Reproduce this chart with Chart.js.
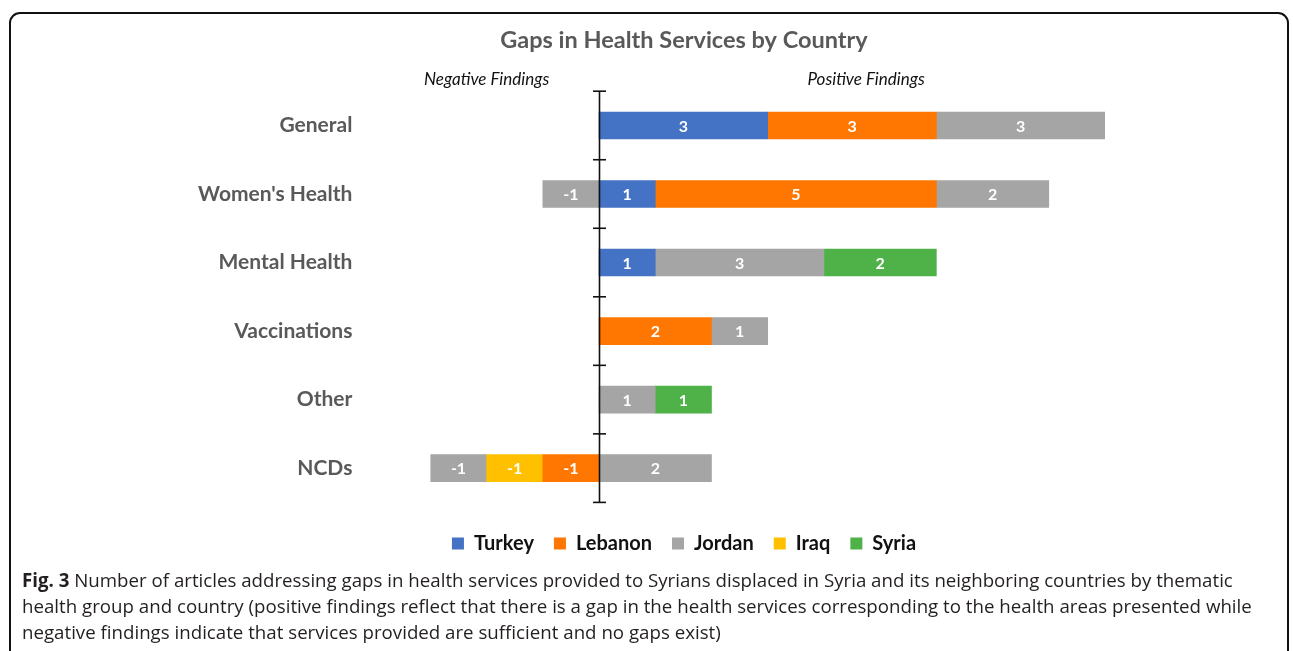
<!DOCTYPE html>
<html>
<head>
<meta charset="utf-8">
<script src="https://cdn.jsdelivr.net/npm/chart.js@4/dist/chart.umd.min.js"></script>
<style>
  html,body{margin:0;padding:0;background:#fff;width:1293px;height:651px;overflow:hidden;}
  #frame{position:absolute;left:9px;top:12px;width:1280px;height:700px;border:2px solid #111;border-radius:11px;box-sizing:border-box;}
  #wrap{position:absolute;left:0;top:0;width:1293px;height:593px;}
  #caption{position:absolute;left:22px;top:567px;font-family:"Open Sans",sans-serif;font-size:18.7px;line-height:26px;color:#231f20;white-space:nowrap;}
  #caption b{font-weight:700;}
</style>
</head>
<body>
<div id="frame"></div>
<div id="wrap"><canvas id="c" width="1293" height="593"></canvas></div>
<div id="caption"><b>Fig. 3</b> Number of articles addressing gaps in health services provided to Syrians displaced in Syria and its neighboring countries by thematic<br>health group and country (positive findings reflect that there is a gap in the health services corresponding to the health areas presented while<br>negative findings indicate that services provided are sufficient and no gaps exist)</div>
<script>
const categories = ["General", "Women's Health", "Mental Health", "Vaccinations", "Other", "NCDs"];
const turkey   = [3, 1, 1, null, null, null];
const lebanon  = [3, 5, null, 2, null, -1];
const jordan   = [3, 2, 3, 1, 1, 2];
const iraq     = [null, null, null, null, null, -1];
const syria    = [null, null, 2, null, 1, null];
const jordanNegative = [null, -1, null, null, null, -1];
const xMin = -3, xMax = 9;
const sideLabels = [{text: "Negative Findings", value: -2}, {text: "Positive Findings", value: 4.75}];

const colors = {Turkey:"#4472C4", Lebanon:"#FF7700", Jordan:"#A5A5A5", Iraq:"#FFC000", Syria:"#4EB249"};

const PAD_LEFT = 150, PAD_RIGHT = 75, AREA_LEFT = 430.4, AREA_RIGHT = 1105;

const mk = (label, data, color, hidden) => ({label, data, backgroundColor: color, borderWidth: 0, barThickness: 27, stack: 's', inLegend: !hidden});

const datasets = [
  mk("Turkey", turkey, colors.Turkey),
  mk("Lebanon", lebanon, colors.Lebanon),
  mk("Jordan", jordan, colors.Jordan),
  mk("Iraq", iraq, colors.Iraq),
  mk("Syria", syria, colors.Syria),
  mk("Jordan ", jordanNegative, colors.Jordan, true)
];

const decor = {
  id: 'decor',
  afterDatasetsDraw(chart) {
    const ctx = chart.ctx, x = chart.scales.x, y = chart.scales.y, a = chart.chartArea;
    ctx.save();
    ctx.fillStyle = '#fff';
    ctx.font = 'bold 16px Lato';
    ctx.textAlign = 'center'; ctx.textBaseline = 'middle';
    chart.data.datasets.forEach((ds, di) => {
      const meta = chart.getDatasetMeta(di);
      meta.data.forEach((el, i) => {
        const v = ds.data[i];
        if (v === null || v === undefined) return;
        const p = el.getProps(['x','y','base'], true);
        ctx.fillText(String(v), (p.x + p.base) / 2, p.y + 1);
      });
    });
    const zx = Math.round(x.getPixelForValue(0)) + 0.5;
    ctx.strokeStyle = '#111'; ctx.lineWidth = 1.6;
    ctx.beginPath(); ctx.moveTo(zx, a.top); ctx.lineTo(zx, a.bottom); ctx.stroke();
    const n = categories.length;
    for (let i = 0; i <= n; i++) {
      const py = y.getPixelForValue(i - 0.5);
      ctx.beginPath(); ctx.moveTo(zx - 6.5, py); ctx.lineTo(zx + 6.5, py); ctx.stroke();
    }
    ctx.fillStyle = '#111';
    ctx.font = 'italic 17px Lato';
    sideLabels.forEach(s => ctx.fillText(s.text, x.getPixelForValue(s.value), a.top - 12));
    ctx.restore();
  }
};

new Chart(document.getElementById('c'), {
  type: 'bar',
  data: {labels: categories, datasets},
  options: {
    indexAxis: 'y',
    responsive: false,
    animation: false,
    layout: {padding: {left: PAD_LEFT, right: PAD_RIGHT, top: 0, bottom: 0}},
    scales: {
      x: {
        stacked: true, min: xMin, max: xMax,
        display: true,
        grid: {display: false, drawTicks: false},
        border: {display: false},
        ticks: {display: false, stepSize: 1},
        afterFit: s => { s.height = 11; }
      },
      y: {
        stacked: true,
        grid: {display: false, drawTicks: false},
        border: {display: false},
        ticks: {padding: 78, color: '#595959', font: {family: 'Lato', size: 21, weight: 'bold'}},
        afterFit: s => { s.width = AREA_LEFT - PAD_LEFT; }
      },
      yRight: {
        type: 'linear', axis: 'y', position: 'right', display: true,
        grid: {display: false, drawTicks: false},
        border: {display: false},
        ticks: {display: false},
        afterFit: s => { s.width = 1293 - PAD_RIGHT - AREA_RIGHT; }
      }
    },
    plugins: {
      title: {
        display: true, text: 'Gaps in Health Services by Country',
        color: '#595959', font: {family: 'Lato', size: 23.5, weight: 'bold'},
        padding: {top: 26, bottom: 37}
      },
      legend: {
        position: 'bottom',
        labels: {
          boxWidth: 12, boxHeight: 12, padding: 20,
          color: '#111', font: {family: 'Lato', size: 20, weight: 'bold'},
          filter: (item, data) => data.datasets[item.datasetIndex].inLegend
        }
      },
      tooltip: {enabled: false}
    }
  },
  plugins: [decor]
});
</script>
</body>
</html>
